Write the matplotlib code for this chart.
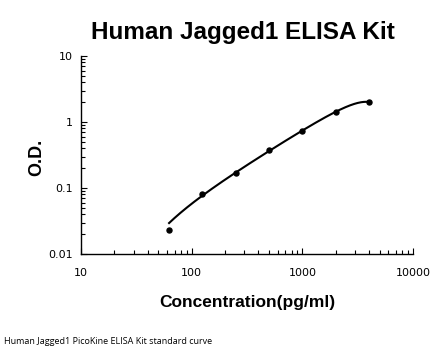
import numpy as np
import matplotlib
matplotlib.use("Agg")
import matplotlib.pyplot as plt
from matplotlib.ticker import FixedLocator, FixedFormatter, LogLocator, NullFormatter

# standard curve points
conc = [62.5, 125, 250, 500, 1000, 2000, 4000]
od = [0.023, 0.080, 0.169, 0.377, 0.731, 1.43, 2.01]

x_ticks = [10, 100, 1000, 10000]
x_labels = ["10", "100", "1000", "10000"]
y_ticks = [0.01, 0.1, 1, 10]
y_labels = ["0.01", "0.1", "1", "10"]

plt.rcParams['font.family'] = ['Liberation Sans', 'DejaVu Sans']

fig = plt.figure(figsize=(4.46, 3.56), dpi=100)
ax = fig.add_axes([81 / 446, 1 - 254 / 356, (413 - 81) / 446, (254 - 56) / 356])

# cubic polynomial trendline fitted in linear space, drawn on the log axes
coef = np.polyfit(conc, od, 3)
xs = np.logspace(np.log10(conc[0]), np.log10(conc[-1]), 300)
ax.plot(xs, np.polyval(coef, xs), color="black", lw=1.5)
ax.plot(conc, od, "o", color="black", ms=3.6)

ax.set_xscale("log")
ax.set_yscale("log")
ax.set_xlim(10, 10000)
ax.set_ylim(0.01, 10)

ax.xaxis.set_major_locator(FixedLocator(x_ticks))
ax.xaxis.set_major_formatter(FixedFormatter(x_labels))
ax.yaxis.set_major_locator(FixedLocator(y_ticks))
ax.yaxis.set_major_formatter(FixedFormatter(y_labels))
ax.xaxis.set_minor_locator(LogLocator(base=10, subs=np.arange(2, 10)))
ax.yaxis.set_minor_locator(LogLocator(base=10, subs=np.arange(2, 10)))
ax.xaxis.set_minor_formatter(NullFormatter())
ax.yaxis.set_minor_formatter(NullFormatter())

ax.tick_params(which="both", direction="in", length=3, width=0.8, color="black")
ax.tick_params(which="major", length=4, labelsize=8, labelfontfamily="DejaVu Sans")
ax.tick_params(axis="x", which="major", pad=10)
ax.tick_params(axis="y", which="major", pad=6)

for s in ["top", "right"]:
    ax.spines[s].set_visible(False)
for s in ["left", "bottom"]:
    ax.spines[s].set_linewidth(1.0)

fig.text(243 / 446, 1 - 33 / 356, "Human Jagged1 ELISA Kit", ha="center", va="center",
         fontsize=17.5, fontweight="bold")
fig.text(247 / 446, 1 - 302 / 356, "Concentration(pg/ml)", ha="center", va="center",
         fontsize=12.5, fontweight="bold")
fig.text(37 / 446, 1 - 157 / 356, "O.D.", ha="center", va="center", rotation=90,
         fontsize=13, fontweight="bold")
fig.text(4 / 446, 1 - 341 / 356, "Human Jagged1 PicoKine ELISA Kit standard curve",
         ha="left", va="center", fontsize=6.5, family=["Open Sans", "DejaVu Sans"])

fig.savefig("out.png", dpi=100)
